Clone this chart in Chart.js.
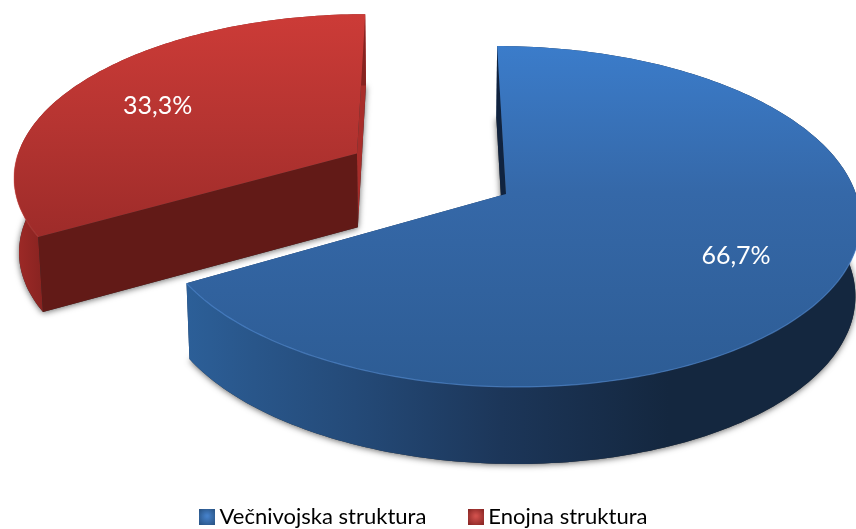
<!DOCTYPE html>
<html>
<head>
<meta charset="utf-8">
<title>Struktura</title>
<script src="https://cdn.jsdelivr.net/npm/chart.js@4"></script>
<style>
  html, body { margin: 0; padding: 0; background: #ffffff; }
  canvas { display: block; }
</style>
</head>
<body>
<canvas id="myChart" width="856" height="529"></canvas>
<script>
const categories = ['Večnivojska struktura', 'Enojna struktura'];
const shares = [66.7, 33.3];

const swatchColors = [['#4580c8', '#2a5688'], ['#d0504c', '#8c2826']];

// Perspective of the tilted pie, fitted on the picture.
const VIEW = { apexX: 506, apexY: 194, vanishX: 430, scaleX: 350, scaleY: 167.5, tilt: 0.132 };
const DEPTH = { base: 74.5, slope: 2.5, shrink: 0.988 };

// From a point of the flat pie (radius = 1) to the page
function project(u, v) {
    const w = 1 - VIEW.tilt * v;
    return {
        x: VIEW.vanishX + (VIEW.apexX - VIEW.vanishX + VIEW.scaleX * u) / w,
        y: VIEW.apexY + VIEW.scaleY * v / w
    };
}

// Same point on the lower face of the slab
function projectLow(u, v) {
    const p = project(u, v);
    return {
        x: VIEW.vanishX + (p.x - VIEW.vanishX) * DEPTH.shrink,
        y: p.y + DEPTH.base + DEPTH.slope * v
    };
}

function rimPoints(slice, fn) {
    const pts = [];
    const n = Math.ceil(Math.abs(slice.end - slice.start) / 0.02);
    for (let i = 0; i <= n; i++) {
        const a = slice.start + (slice.end - slice.start) * i / n;
        pts.push(fn(slice.du + Math.cos(a), slice.dv + Math.sin(a)));
    }
    return pts;
}

function tracePath(ctx, pts) {
    ctx.beginPath();
    pts.forEach((p, i) => i ? ctx.lineTo(p.x, p.y) : ctx.moveTo(p.x, p.y));
    ctx.closePath();
}

function gradient(ctx, x0, y0, x1, y1, stops) {
    const g = ctx.createLinearGradient(x0, y0, x1, y1);
    stops.forEach(s => g.addColorStop(s[0], s[1]));
    return g;
}

const looks = [
    {
        top: [[0, '#3b7cca'], [0.43, '#3568a8'], [1, '#2d5c94']],
        topRange: [47, 388],
        wall: [[0, '#2c5f98'], [0.1, '#29568a'], [0.25, '#244a78'], [0.47, '#1c3659'], [0.72, '#14273f'], [1, '#14273f']],
        wallRange: [187, 856],
        startWall: '#10233f',
        endWall: '#1c3a5f',
        rim: 'rgba(90,150,225,0.55)'
    },
    {
        top: [[0, '#cc3b37'], [0.5, '#b53431'], [1, '#9d2b29']],
        topRange: [15, 240],
        wall: [[0, '#a02a28'], [1, '#872320']],
        wallRange: [14, 44],
        startWall: '#621a17',
        endWall: '#a82d2a',
        rim: 'rgba(215,80,75,0.35)'
    }
];

function drawSlab(ctx, slice, look) {
    const topRim = rimPoints(slice, project);
    const lowRim = rimPoints(slice, projectLow);
    const apexTop = project(slice.du, slice.dv);
    const apexLow = projectLow(slice.du, slice.dv);

    // soft shadow round the lower face
    ctx.save();
    ctx.shadowColor = 'rgba(0,0,0,0.6)';
    ctx.shadowBlur = 6;
    ctx.shadowOffsetY = 1;
    ctx.fillStyle = '#333333';
    tracePath(ctx, [apexLow].concat(lowRim));
    ctx.fill();
    ctx.restore();

    // radial wall at the end angle
    ctx.fillStyle = look.endWall;
    tracePath(ctx, [apexTop, topRim[topRim.length - 1], lowRim[lowRim.length - 1], apexLow]);
    ctx.fill();

    // outer wall
    ctx.fillStyle = gradient(ctx, look.wallRange[0], 0, look.wallRange[1], 0, look.wall);
    tracePath(ctx, topRim.concat(lowRim.slice().reverse()));
    ctx.fill();

    // radial wall at the start angle
    ctx.fillStyle = look.startWall;
    tracePath(ctx, [apexTop, topRim[0], lowRim[0], apexLow]);
    ctx.fill();

    // upper face
    ctx.fillStyle = gradient(ctx, 0, look.topRange[0], 0, look.topRange[1], look.top);
    tracePath(ctx, [apexTop].concat(topRim));
    ctx.fill();

    // light edge on the front of the rim
    ctx.strokeStyle = look.rim;
    ctx.lineWidth = 1.2;
    ctx.beginPath();
    topRim.forEach((p, i) => {
        const a = slice.start + (slice.end - slice.start) * i / (topRim.length - 1);
        if (Math.sin(a) > 0) ctx.lineTo(p.x, p.y);
    });
    ctx.stroke();
}

function sliceFromArc(arc) {
    const p = arc.getProps(['startAngle', 'endAngle', 'outerRadius']);
    const mid = (p.startAngle + p.endAngle) / 2;
    const off = arc.options.offset / p.outerRadius;
    return { start: p.startAngle, end: p.endAngle, mid: mid, du: Math.cos(mid) * off, dv: Math.sin(mid) * off };
}

const pie3d = {
    id: 'pie3d',
    afterLayout(chart) {
        // the legend sits lower than its padding would allow
        chart.legend.top = 458;
        chart.legend.left -= 3;
    },
    beforeDatasetDraw(chart, args) {
        const ctx = chart.ctx;
        const slices = chart.getDatasetMeta(args.index).data.map(sliceFromArc);
        // the far slice goes first
        drawSlab(ctx, slices[1], looks[1]);
        drawSlab(ctx, slices[0], looks[0]);

        const nudge = [[4, 0], [-6, 5]];
        ctx.fillStyle = '#ffffff';
        ctx.font = '25px Lato';
        ctx.textAlign = 'center';
        ctx.textBaseline = 'middle';
        slices.forEach((s, i) => {
            const p = project(s.du + 0.7 * Math.cos(s.mid), s.dv + 0.7 * Math.sin(s.mid));
            const text = shares[i].toFixed(1).replace('.', ',') + '%';
            ctx.fillText(text, p.x + nudge[i][0], p.y + nudge[i][1]);
        });
        return false;
    }
};

function makeSwatch(colors) {
    const c = document.createElement('canvas');
    c.width = 16;
    c.height = 16;
    const g = c.getContext('2d');
    const r = g.createRadialGradient(8, 7, 1, 8, 8, 10);
    r.addColorStop(0, colors[0]);
    r.addColorStop(1, colors[1]);
    g.fillStyle = r;
    g.fillRect(0, 0, 16, 16);
    return c;
}

const swatches = swatchColors.map(makeSwatch);

new Chart(document.getElementById('myChart'), {
    type: 'pie',
    data: {
        labels: categories,
        datasets: [{
            data: shares,
            backgroundColor: swatchColors.map(c => c[0]),
            // exploded by half a radius, whatever room the legend leaves
            offset: (c) => c.dataIndex === 1 && c.chart.chartArea ? Math.min(c.chart.chartArea.width, c.chart.chartArea.height) / 5 : 0,
            borderWidth: 0
        }]
    },
    options: {
        responsive: false,
        animation: false,
        plugins: {
            tooltip: { enabled: false },
            legend: {
                position: 'bottom',
                labels: {
                    usePointStyle: true,
                    pointStyleWidth: 3,
                    padding: 48,
                    color: '#000000',
                    font: { family: 'Lato', size: 22 },
                    generateLabels: () => categories.map((name, i) => ({
                        text: name,
                        pointStyle: swatches[i],
                        fontColor: '#000000',
                        lineWidth: 0,
                        datasetIndex: 0,
                        index: i
                    }))
                }
            }
        }
    },
    plugins: [pie3d]
});
</script>
</body>
</html>
